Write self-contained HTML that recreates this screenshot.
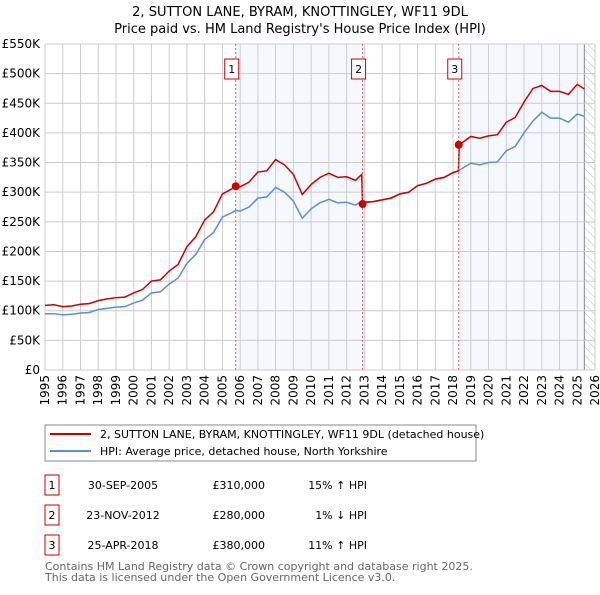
<!DOCTYPE html>
<html><head><meta charset="utf-8"><style>
body{margin:0;background:#fff;}
svg text{font-family:"DejaVu Sans","Liberation Sans",sans-serif;}
</style></head><body>
<svg id="chart" width="600" height="590" xmlns="http://www.w3.org/2000/svg">
<text x="300" y="16" text-anchor="middle" font-size="13">2, SUTTON LANE, BYRAM, KNOTTINGLEY, WF11 9DL</text>
<text x="300" y="33" text-anchor="middle" font-size="13">Price paid vs. HM Land Registry's House Price Index (HPI)</text>
<defs><pattern id="hatch" width="6" height="6" patternUnits="userSpaceOnUse" patternTransform="rotate(-45)"><line x1="0" y1="0" x2="0" y2="6" stroke="#bbb" stroke-width="1"/></pattern></defs>
<g id="bg"></g><g id="grid"></g><g id="axes"></g><g id="lines"></g><g id="marks"></g>
<g>
<rect x="45" y="425" width="431" height="36" fill="#fff" stroke="#888"/>
<line x1="50" y1="434" x2="91" y2="434" stroke="#cc0000" stroke-width="2"/>
<text x="100" y="438" font-size="11">2, SUTTON LANE, BYRAM, KNOTTINGLEY, WF11 9DL (detached house)</text>
<line x1="50" y1="451" x2="91" y2="451" stroke="#5b8fd0" stroke-width="2"/>
<text x="100" y="455" font-size="11">HPI: Average price, detached house, North Yorkshire</text>
</g>
<g id="table" font-size="11"></g>
<text x="45" y="570" font-size="11" fill="#666">Contains HM Land Registry data © Crown copyright and database right 2025.</text>
<text x="45" y="581" font-size="11" fill="#666">This data is licensed under the Open Government Licence v3.0.</text>
</svg>
<script>
const years=[1995,1995.5,1996,1996.5,1997,1997.5,1998,1998.5,1999,1999.5,2000,2000.5,2001,2001.5,2002,2002.5,2003,2003.5,2004,2004.5,2005,2005.5,2005.75,2006,2006.5,2007,2007.5,2008,2008.5,2009,2009.5,2010,2010.5,2011,2011.5,2012,2012.5,2012.85,2012.9,2013,2013.5,2014,2014.5,2015,2015.5,2016,2016.5,2017,2017.5,2018,2018.3,2018.35,2019,2019.5,2020,2020.5,2021,2021.5,2022,2022.5,2023,2023.5,2024,2024.5,2025,2025.4];
const hpi=[95,95,93,94,96,97,102,104,106,107,113,118,130,132,145,155,180,195,220,232,258,265,269,268,275,290,292,308,300,285,256,272,282,288,282,283,278,285,280,283,284,287,290,297,300,311,315,322,325,333,336,337,349,346,350,351,370,377,400,420,435,425,425,418,432,428];
const price=[109,110,107,108,111,112,117,120,122,123,130,136,150,152,167,178,208,225,253,267,297,305,310,309,317,334,336,355,346,330,296,313,325,332,325,326,320,330,280,283,284,287,290,297,300,311,315,322,325,333,336,380,394,391,395,397,418,426,452,475,480,470,470,465,482,474];
const saleYears=[2005.75,2012.9,2018.32];
const salePrices=[310,280,380];
const saleLabels=["1","2","3"];
const saleDates=["30-SEP-2005","23-NOV-2012","25-APR-2018"];
const salePriceText=["£310,000","£280,000","£380,000"];
const saleHpiText=["15% ↑ HPI","1% ↓ HPI","11% ↑ HPI"];
const yTicks=[0,50,100,150,200,250,300,350,400,450,500,550];
const yTickLabels=["£0","£50K","£100K","£150K","£200K","£250K","£300K","£350K","£400K","£450K","£500K","£550K"];
const xTicks=[1995,1996,1997,1998,1999,2000,2001,2002,2003,2004,2005,2006,2007,2008,2009,2010,2011,2012,2013,2014,2015,2016,2017,2018,2019,2020,2021,2022,2023,2024,2025,2026];
const dataEnd=2025.4;
const NS="http://www.w3.org/2000/svg";
const X0=45,X1=595,Y0=370,Y1=44;
const xs=y=>X0+(y-1995)/(2026-1995)*(X1-X0);
const ys=v=>Y0-v/550*(Y0-Y1);
function mk(parent,tag,attrs){const e=document.createElementNS(NS,tag);for(const k in attrs)e.setAttribute(k,attrs[k]);document.getElementById(parent).appendChild(e);return e;}
let r=mk('bg','rect',{x:xs(saleYears[0]),y:Y1,width:xs(saleYears[1])-xs(saleYears[0]),height:Y0-Y1,fill:'#eef3fc',opacity:0.6});


r=mk('bg','rect',{x:xs(saleYears[2]),y:Y1,width:xs(dataEnd)-xs(saleYears[2]),height:Y0-Y1,fill:'#eef3fc',opacity:0.6});


r=mk('bg','rect',{x:xs(dataEnd),y:Y1,width:X1-xs(dataEnd),height:Y0-Y1,fill:'url(#hatch)'});


mk('bg','line',{x1:xs(dataEnd),x2:xs(dataEnd),y1:Y1,y2:Y0,stroke:'#888'});
yTicks.forEach((v,i)=>{
 const l=mk('grid','line',{x1:X0,x2:X1,y1:ys(v),y2:ys(v),stroke:'#ccc'});
 
 
 const t=mk('axes','text',{x:X0-5,y:ys(v)+4,'text-anchor':'end','font-size':12});
 t.textContent=yTickLabels[i];
 
 
});
xTicks.forEach(y=>{
 const l=mk('grid','line',{x1:xs(y),x2:xs(y),y1:Y1,y2:Y0,stroke:'#ccc'});
 
 
 const t=mk('axes','text',{x:0,y:0,'text-anchor':'end','font-size':12,transform:`translate(${xs(y)+4},${Y0+5}) rotate(-90)`});
 t.textContent=y;
 
 
});
const hp=mk('lines','polyline',{points:years.map((y,i)=>xs(y)+','+ys(hpi[i])).join(' '),fill:'none',stroke:'#5b8fd0','stroke-width':1.5});


const pp=mk('lines','polyline',{points:years.map((y,i)=>xs(y)+','+ys(price[i])).join(' '),fill:'none',stroke:'#cc0000','stroke-width':1.5});


saleYears.forEach((y,i)=>{
 const l=mk('marks','line',{x1:xs(y),x2:xs(y),y1:Y1,y2:Y0,stroke:'#e06060','stroke-dasharray':'2,2'});
 
 
 const c=mk('marks','circle',{cx:xs(y),cy:ys(salePrices[i]),r:4,fill:'#cc0000'});
 
 
 const b=mk('marks','rect',{x:xs(y)-11,y:59,width:14,height:20,fill:'#fff',stroke:'#cc0000'});
 
 
 const t=mk('marks','text',{x:xs(y)-4,y:73,'text-anchor':'middle','font-size':11});
 t.textContent=saleLabels[i];
 
 
});
saleLabels.forEach((s,i)=>{
 const yy=475+i*30;
 const b=mk('table','rect',{x:45,y:yy,width:14,height:20,fill:'#fff',stroke:'#cc0000'});
 
 
 const vals=[[52,s,'middle'],[123,saleDates[i],'middle'],[265,salePriceText[i],'end'],[367,saleHpiText[i],'end']];
 vals.forEach(([x,txt,a],j)=>{
  const t=mk('table','text',{x:x,y:yy+14,'text-anchor':a,'font-size':11});
  t.textContent=txt;
  
  
 });
});
</script>
</body></html>
